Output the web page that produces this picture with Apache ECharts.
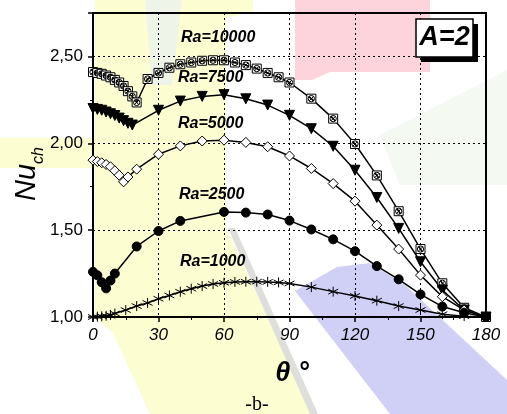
<!DOCTYPE html>
<html>
<head>
<meta charset="utf-8">
<script src="https://cdn.jsdelivr.net/npm/echarts@6/dist/echarts.min.js"></script>
<style>
html, body { margin: 0; padding: 0; background: #fff; }
#chart { width: 507px; height: 414px; }
</style>
</head>
<body>
<div id="chart"></div>
<script>
// inclination angle (deg) and Nu_ch for each Rayleigh number, A=2
var theta10000 = [0, 2, 4, 6, 8, 10, 12, 14, 16, 18, 20, 25, 30, 35, 40, 45, 50, 55, 60, 65, 70, 75, 80, 85, 90, 100, 110, 120, 130, 140, 150, 160, 170, 180]
var nu10000 = [2.41, 2.405, 2.40, 2.39, 2.38, 2.365, 2.35, 2.33, 2.30, 2.27, 2.235, 2.37, 2.405, 2.435, 2.455, 2.465, 2.475, 2.478, 2.478, 2.465, 2.45, 2.43, 2.405, 2.38, 2.35, 2.257, 2.142, 1.996, 1.815, 1.609, 1.391, 1.194, 1.053, 1.0]

var theta7500 = [0, 2, 4, 6, 8, 10, 12, 14, 16, 18, 30, 40, 50, 60, 70, 80, 90, 100, 110, 120, 130, 140, 150, 160, 170, 180]
var nu7500 = [2.20, 2.195, 2.19, 2.18, 2.17, 2.16, 2.145, 2.13, 2.115, 2.105, 2.19, 2.243, 2.27, 2.28, 2.256, 2.22, 2.161, 2.084, 1.983, 1.845, 1.688, 1.51, 1.318, 1.155, 1.04, 1.0]

var theta5000 = [0, 2, 4, 6, 8, 10, 12, 14, 16, 20, 30, 40, 50, 60, 70, 80, 90, 100, 110, 120, 130, 140, 150, 160, 170, 180]
var nu5000 = [1.903, 1.895, 1.888, 1.878, 1.865, 1.842, 1.816, 1.778, 1.806, 1.851, 1.937, 1.985, 2.013, 2.018, 2.005, 1.98, 1.927, 1.855, 1.768, 1.667, 1.529, 1.391, 1.241, 1.117, 1.04, 1.0]

var theta2500 = [0, 2, 4, 6, 8, 10, 20, 30, 40, 60, 70, 80, 90, 100, 110, 120, 130, 140, 150, 160, 170, 180]
var nu2500 = [1.26, 1.24, 1.20, 1.165, 1.21, 1.25, 1.406, 1.495, 1.553, 1.605, 1.601, 1.59, 1.555, 1.504, 1.447, 1.379, 1.293, 1.217, 1.13, 1.06, 1.025, 1.0]

var theta1000 = [0, 2, 4, 6, 8, 10, 15, 20, 25, 30, 35, 40, 45, 50, 55, 60, 65, 70, 75, 80, 85, 90, 100, 110, 120, 130, 140, 150, 160, 170, 180]
var nu1000 = [1.0, 1.002, 1.004, 1.007, 1.012, 1.02, 1.04, 1.063, 1.081, 1.105, 1.124, 1.145, 1.163, 1.178, 1.19, 1.197, 1.202, 1.203, 1.203, 1.202, 1.199, 1.193, 1.172, 1.146, 1.121, 1.094, 1.063, 1.04, 1.016, 1.005, 1.0]

var xTicks = [0, 30, 60, 90, 120, 150, 180]
var yTicks = [1.0, 1.5, 2.0, 2.5]

var seriesNames = ['Ra=10000', 'Ra=7500', 'Ra=5000', 'Ra=2500', 'Ra=1000']

function pairs (xs, ys) {
  return xs.map(function (x, i) { return [x, ys[i]] })
}

var boxSym = 'path://M0,0L20,0L20,20L0,20Z M10,3A7,7 0 1,0 10,17A7,7 0 1,0 10,3Z M5,5L15,15M15,5L5,15'
var starSym = 'path://M10,0L10,20M1.34,5L18.66,15M1.34,15L18.66,5'

function line (name, data, symbol, size, fill, rotate) {
  return {
    name: name,
    type: 'line',
    data: data,
    symbol: symbol,
    symbolSize: size,
    symbolRotate: rotate || 0,
    showAllSymbol: true,
    clip: false,
    lineStyle: { color: '#000', width: 1.5 },
    itemStyle: { color: fill, borderColor: '#000', borderWidth: 1 },
    emphasis: { disabled: true },
    z: 5
  }
}

var labelFont = 'bold italic 16px "Liberation Sans", Arial, sans-serif'
function raLabel (text, x, y) {
  return { type: 'text', left: x, top: y, z: 100, style: { text: text, font: labelFont, fill: '#000' } }
}

var myChart = echarts.init(document.getElementById('chart'))
myChart.setOption({
  animation: false,
  backgroundColor: '#fff',
  grid: {
    left: 93,
    right: 21,
    top: 13,
    bottom: 97,
    show: true,
    borderColor: '#000',
    borderWidth: 2,
  },
  xAxis: {
    type: 'value',
    min: xTicks[0],
    max: xTicks[xTicks.length - 1],
    interval: 30,
    axisLine: { show: true, onZero: false, lineStyle: { color: '#000', width: 2 } },
    axisTick: { show: true, length: 5, lineStyle: { color: '#000', width: 1.5 } },
    minorTick: { show: true, splitNumber: 2, length: 3, lineStyle: { color: '#000', width: 1 } },
    axisLabel: {
      margin: 10,
      color: '#000',
      fontSize: 17,
      fontStyle: 'italic',
      fontFamily: '"Liberation Sans", Arial, sans-serif',
    },
    splitLine: { show: true, lineStyle: { color: '#000', type: [2, 3], width: 1 } },
  },
  yAxis: {
    type: 'value',
    min: yTicks[0],
    max: 2.75,
    interval: 0.5,
    axisLine: { show: true, onZero: false, lineStyle: { color: '#000', width: 2 } },
    axisTick: { show: true, length: 5, lineStyle: { color: '#000', width: 1.5 } },
    minorTick: { show: true, splitNumber: 2, length: 3, lineStyle: { color: '#000', width: 1 } },
    axisLabel: {
      margin: 10,
      color: '#000',
      fontSize: 17,
      fontFamily: '"Liberation Sans", Arial, sans-serif',
      showMaxLabel: false,
      formatter: function (v) { return yTicks.indexOf(v) < 0 ? '' : v.toFixed(2).replace('.', ',') },
    },
    splitLine: { show: true, lineStyle: { color: '#000', type: [2, 3], width: 1 } },
  },
  graphic: [
    // faded watermark patches behind the plot
    { type: 'polygon', z: -10, shape: { points: [[103, 0], [253, 0], [253, 12], [226, 18], [226, 228], [312, 414], [150, 414], [113, 333], [95, 318], [95, 0]] }, style: { fill: '#fdfdd2' } },
    { type: 'polygon', z: -10, shape: { points: [[0, 138], [95, 138], [95, 168], [0, 168]] }, style: { fill: '#fdfdd2' } },
    { type: 'polygon', z: -9, shape: { points: [[228, 228], [235, 228], [318, 414], [310, 414]] }, style: { fill: '#dededa' } },
    { type: 'polygon', z: -10, shape: { points: [[295, 0], [430, 0], [430, 72], [330, 72], [312, 80], [295, 80]] }, style: { fill: '#fdd3dc' } },
    { type: 'polygon', z: -10, shape: { points: [[295, 291], [337, 267], [370, 263], [405, 285], [507, 380], [507, 414], [390, 414]] }, style: { fill: '#d0d0f7' } },
    { type: 'polygon', z: -10, shape: { points: [[380, 135], [507, 70], [507, 185], [400, 185]] }, style: { fill: '#f4f9f2' } },
    { type: 'polygon', z: -10, shape: { points: [[145, 0], [182, 0], [172, 85], [152, 85]] }, style: { fill: '#eef5e8' } },
    // curve labels
    raLabel('Ra=10000', 181, 30),
    raLabel('Ra=7500', 178, 70),
    raLabel('Ra=5000', 178, 116),
    raLabel('Ra=2500', 179, 187),
    raLabel('Ra=1000', 180, 254),
    // A=2 box with drop shadow
    { type: 'rect', z: 100, shape: { x: 421, y: 24, width: 57, height: 38 }, style: { fill: '#000' } },
    { type: 'rect', z: 101, shape: { x: 416, y: 19, width: 57, height: 38 }, style: { fill: '#fff', stroke: '#000', lineWidth: 1.5 } },
    { type: 'text', z: 102, x: 444.5, y: 38, style: { text: 'A=2', font: 'bold italic 27px "Liberation Sans", Arial, sans-serif', fill: '#000', align: 'center', verticalAlign: 'middle' } },
    // axis titles
    {
      type: 'text', z: 100, x: 24, y: 174, rotation: Math.PI / 2,
      style: {
        text: '{a|Nu}{b|ch}', align: 'center', verticalAlign: 'middle',
        rich: {
          a: { font: 'italic 29px "Liberation Sans", Arial, sans-serif', fill: '#000', verticalAlign: 'bottom', lineHeight: 34 },
          b: { font: 'italic 16px "Liberation Sans", Arial, sans-serif', fill: '#000', verticalAlign: 'bottom', padding: [0, 0, -6, 0] }
        }
      }
    },
    { type: 'text', z: 100, x: 292, y: 374, style: { text: 'θ °', font: 'bold italic 27px "Liberation Sans", Arial, sans-serif', fill: '#000', align: 'center', verticalAlign: 'middle' } },
    { type: 'text', z: 100, x: 257, y: 405, style: { text: '-b-', font: '20px "Liberation Serif", "Times New Roman", serif', fill: '#000', align: 'center', verticalAlign: 'middle' } },
  ],
  series: [
    line(seriesNames[0], pairs(theta10000, nu10000), boxSym, 9, '#fff'),
    line(seriesNames[1], pairs(theta7500, nu7500), 'triangle', 10, '#000', 180),
    line(seriesNames[2], pairs(theta5000, nu5000), 'diamond', 10, '#fff'),
    line(seriesNames[3], pairs(theta2500, nu2500), 'circle', 9, '#000'),
    line(seriesNames[4], pairs(theta1000, nu1000), starSym, 10, '#000'),
  ],
})
</script>
</body>
</html>
